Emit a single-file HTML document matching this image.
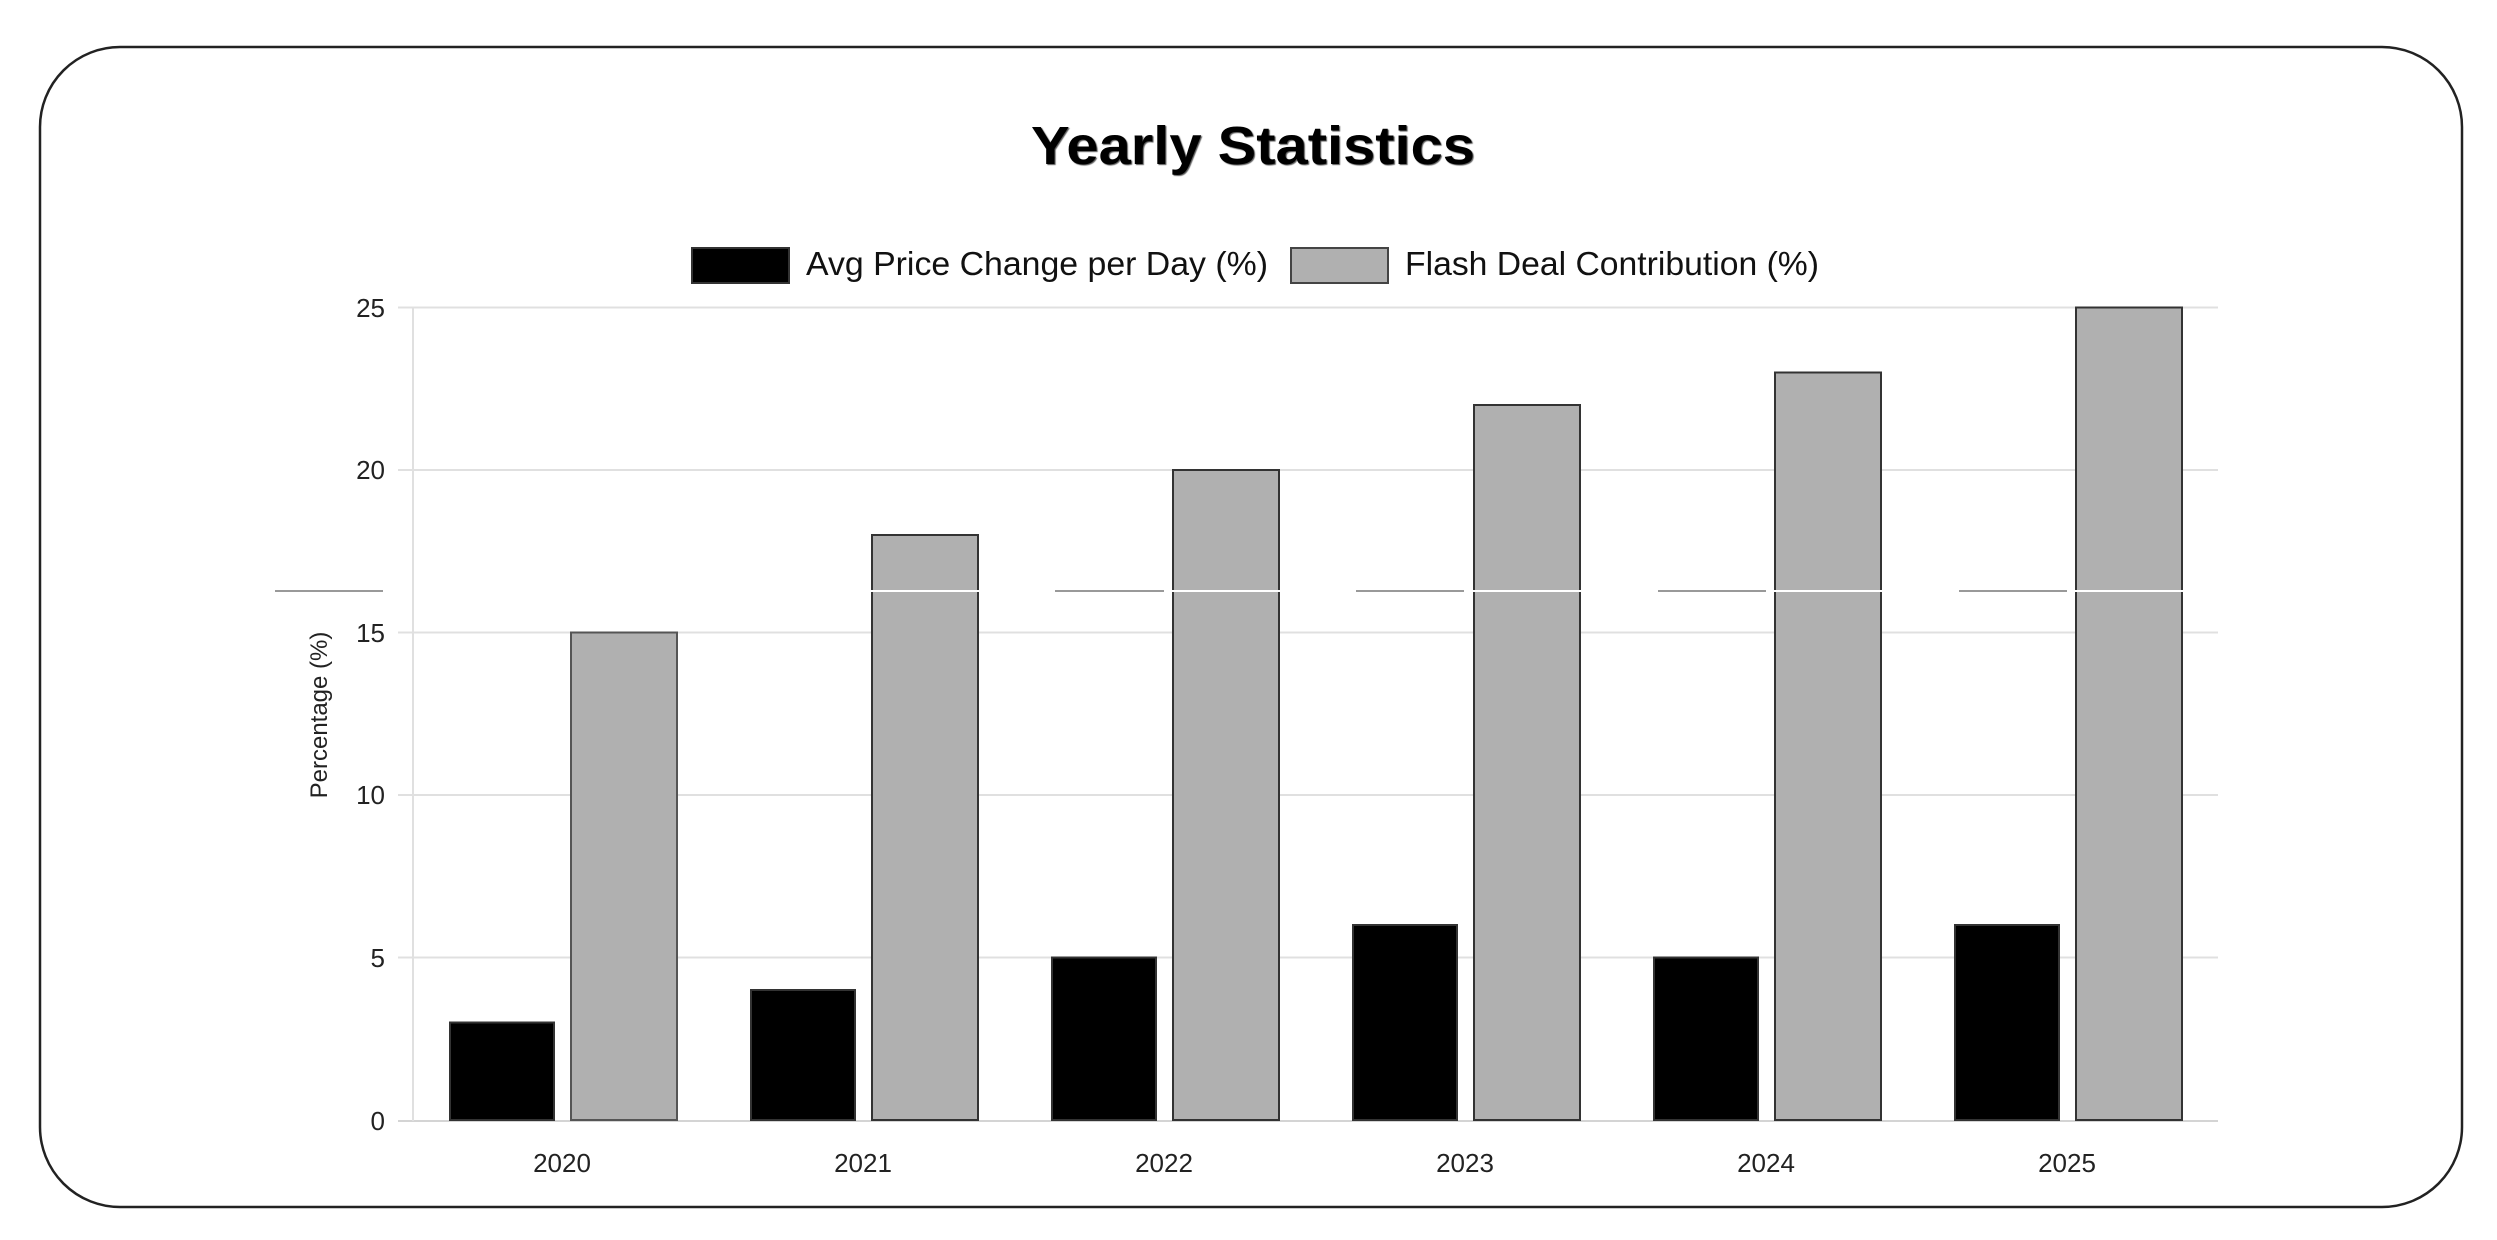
<!DOCTYPE html>
<html><head><meta charset="utf-8"><style>
html,body{margin:0;padding:0;background:#fff;}
svg{display:block;}
text{font-family:"Liberation Sans",Arial,sans-serif;}
</style></head><body>
<svg width="2497" height="1240" viewBox="0 0 2497 1240" xmlns="http://www.w3.org/2000/svg">
<rect x="40" y="47" width="2422" height="1160" rx="80" ry="80" fill="#fff" stroke="#222" stroke-width="2.5"/>
<text x="1253" y="164" text-anchor="middle" font-size="54" font-weight="bold" fill="#000" textLength="444" lengthAdjust="spacingAndGlyphs" style="text-shadow:1px 1px 1px #555">Yearly Statistics</text>
<rect x="692" y="248" width="97" height="35" fill="#000" stroke="#333" stroke-width="2"/>
<text x="806" y="275" font-size="33" fill="#111" textLength="462" lengthAdjust="spacingAndGlyphs">Avg Price Change per Day (%)</text>
<rect x="1291" y="248" width="97" height="35" fill="#b0b0b0" stroke="#444" stroke-width="2"/>
<text x="1405" y="275" font-size="33" fill="#111" textLength="414" lengthAdjust="spacingAndGlyphs">Flash Deal Contribution (%)</text>
<g stroke="#e0e0e0" stroke-width="2">
<line x1="398" y1="307.5" x2="2218" y2="307.5"/>
<line x1="398" y1="470" x2="2218" y2="470"/>
<line x1="398" y1="632.5" x2="2218" y2="632.5"/>
<line x1="398" y1="795" x2="2218" y2="795"/>
<line x1="398" y1="957.5" x2="2218" y2="957.5"/>
<line x1="398" y1="1121" x2="2218" y2="1121" stroke="#d4d4d4"/>
<line x1="413" y1="307" x2="413" y2="1121"/>
</g>
<g font-size="26" fill="#222" text-anchor="end">
<text x="385" y="317">25</text><text x="385" y="479">20</text><text x="385" y="642">15</text>
<text x="385" y="804">10</text><text x="385" y="967">5</text><text x="385" y="1130">0</text>
</g>
<text transform="translate(327,715) rotate(-90)" text-anchor="middle" font-size="24" fill="#222">Percentage (%)</text>
<g id="bars">
<!-- c = 562 + i*301 -->
<rect x="450" y="1022.5" width="104" height="97.5" fill="#000" stroke="#333" stroke-width="2"/>
<rect x="571" y="632.5" width="106" height="487.5" fill="#b0b0b0" stroke="#555" stroke-width="2"/>
<rect x="751" y="990" width="104" height="130" fill="#000" stroke="#333" stroke-width="2"/>
<rect x="872" y="535" width="106" height="585" fill="#b0b0b0" stroke="#333" stroke-width="2"/>
<rect x="1052" y="957.5" width="104" height="162.5" fill="#000" stroke="#333" stroke-width="2"/>
<rect x="1173" y="470" width="106" height="650" fill="#b0b0b0" stroke="#333" stroke-width="2"/>
<rect x="1353" y="925" width="104" height="195" fill="#000" stroke="#333" stroke-width="2"/>
<rect x="1474" y="405" width="106" height="715" fill="#b0b0b0" stroke="#333" stroke-width="2"/>
<rect x="1654" y="957.5" width="104" height="162.5" fill="#000" stroke="#333" stroke-width="2"/>
<rect x="1775" y="372.5" width="106" height="747.5" fill="#b0b0b0" stroke="#333" stroke-width="2"/>
<rect x="1955" y="925" width="104" height="195" fill="#000" stroke="#333" stroke-width="2"/>
<rect x="2076" y="307.5" width="106" height="812.5" fill="#b0b0b0" stroke="#333" stroke-width="2"/>
</g>
<g stroke="#fff" stroke-width="2">
<line x1="569" y1="591" x2="679" y2="591"/><line x1="870" y1="591" x2="980" y2="591"/>
<line x1="1171" y1="591" x2="1281" y2="591"/><line x1="1472" y1="591" x2="1582" y2="591"/>
<line x1="1773" y1="591" x2="1883" y2="591"/><line x1="2074" y1="591" x2="2184" y2="591"/>
</g>
<g stroke="#999" stroke-width="2">
<line x1="275" y1="591" x2="383" y2="591"/><line x1="1055" y1="591" x2="1164" y2="591"/>
<line x1="1356" y1="591" x2="1464" y2="591"/><line x1="1658" y1="591" x2="1766" y2="591"/>
<line x1="1959" y1="591" x2="2067" y2="591"/>
</g>
<g font-size="26" fill="#222" text-anchor="middle">
<text x="562" y="1172">2020</text><text x="863" y="1172">2021</text><text x="1164" y="1172">2022</text>
<text x="1465" y="1172">2023</text><text x="1766" y="1172">2024</text><text x="2067" y="1172">2025</text>
</g>
</svg>
</body></html>
